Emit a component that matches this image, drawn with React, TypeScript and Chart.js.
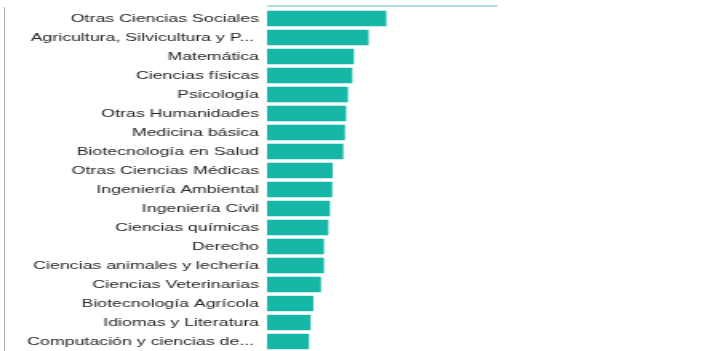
import React, { useEffect, useRef } from "react";
import { Chart, registerables } from "chart.js";

Chart.register(...registerables);

const categories = [
  "Otras Ciencias Sociales",
  "Agricultura, Silvicultura y P... ",
  "Matemática",
  "Ciencias físicas",
  "Psicología",
  "Otras Humanidades",
  "Medicina básica",
  "Biotecnología en Salud",
  "Otras Ciencias Médicas",
  "Ingeniería Ambiental",
  "Ingeniería Civil",
  "Ciencias químicas",
  "Derecho",
  "Ciencias animales y lechería",
  "Ciencias Veterinarias",
  "Biotecnología Agrícola",
  "Idiomas y Literatura",
  "Computación y ciencias de... ",
];

const values = [51.8, 44.1, 37.7, 37.0, 35.1, 34.3, 33.8, 33.1, 28.5, 28.3, 27.3, 26.6, 24.7, 24.7, 23.4, 20.1, 18.9, 18.2];

const axisMax = 100;

const STRETCH = 1.6;
const W = 726;
const H = 351;
const INNER_W = Math.round(W / STRETCH);
const Y_AXIS_WIDTH = 167;

const topLine = {
  id: "topLine",
  afterDraw(chart: any) {
    const { ctx, chartArea } = chart;
    ctx.save();
    ctx.strokeStyle = "#96d6d5";
    ctx.lineWidth = 1.5;
    ctx.beginPath();
    ctx.moveTo(chartArea.left, chartArea.top - 3);
    ctx.lineTo(chartArea.right, chartArea.top - 3);
    ctx.stroke();
    ctx.restore();
  },
};

export default function App() {
  const ref = useRef<HTMLCanvasElement>(null);

  useEffect(() => {
    if (!ref.current) return;
    const chart = new Chart(ref.current, {
      type: "bar",
      data: {
        labels: categories,
        datasets: [
          {
            data: values,
            backgroundColor: "#16b7a6",
            borderWidth: 0,
            barPercentage: 0.9,
            categoryPercentage: 0.9,
          },
        ],
      },
      options: {
        indexAxis: "y",
        animation: false,
        responsive: false,
        devicePixelRatio: 1,
        layout: { padding: { left: 0, right: INNER_W - 311, top: 9, bottom: 0 } },
        plugins: { legend: { display: false }, tooltip: { enabled: false } },
        scales: {
          x: {
            display: false,
            min: 0,
            max: axisMax,
          },
          y: {
            grid: { display: false, drawTicks: false },
            border: { display: false },
            afterFit(scale: any) {
              scale.width = Y_AXIS_WIDTH;
              scale.paddingTop = 0;
              scale.paddingBottom = 0;
            },
            ticks: {
              padding: 5,
              autoSkip: false,
              color: "#262626",
              font: { family: "'Liberation Sans', Arial, sans-serif", size: 11.1 },
            },
          },
        },
      },
      plugins: [topLine],
    });
    return () => chart.destroy();
  }, []);

  return (
    <div style={{ position: "absolute", left: 0, top: 0, width: W, height: H, overflow: "hidden", background: "#fff" }}>
      <div style={{ position: "absolute", left: 4, top: 7, width: 1, height: H - 7, background: "#b3b3b3" }} />
      <canvas
        ref={ref}
        width={INNER_W}
        height={H}
        style={{ position: "absolute", left: 0, top: 0, width: W + "px", height: H + "px" }}
      />
    </div>
  );
}
